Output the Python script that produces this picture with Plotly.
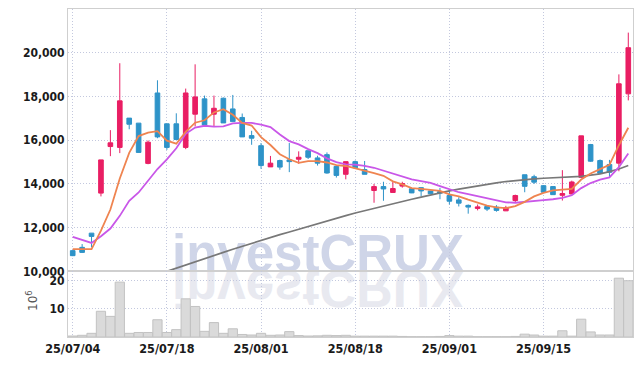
import plotly.graph_objects as go
from plotly.subplots import make_subplots

dates = ["25/07/04", "25/07/07", "25/07/08", "25/07/09", "25/07/10", "25/07/11",
         "25/07/14", "25/07/15", "25/07/16", "25/07/17", "25/07/18",
         "25/07/21", "25/07/22", "25/07/23", "25/07/24", "25/07/25",
         "25/07/28", "25/07/29", "25/07/30", "25/07/31", "25/08/01",
         "25/08/04", "25/08/05", "25/08/06", "25/08/07", "25/08/08",
         "25/08/11", "25/08/12", "25/08/13", "25/08/14", "25/08/18",
         "25/08/19", "25/08/20", "25/08/21", "25/08/22", "25/08/25",
         "25/08/26", "25/08/27", "25/08/28", "25/08/29", "25/09/01",
         "25/09/02", "25/09/03", "25/09/04", "25/09/05", "25/09/08",
         "25/09/09", "25/09/10", "25/09/11", "25/09/12", "25/09/15",
         "25/09/16", "25/09/17", "25/09/18", "25/09/19", "25/09/22",
         "25/09/23", "25/09/24", "25/09/25", "25/09/26"]

opens = [10950, 11100, 11750, 13580, 15710, 15670, 17010, 16780, 14940, 18160,
         16750, 16750, 15670, 17190, 17890, 17190, 17920, 17430, 17040, 16210,
         15750, 14780, 15070, 15100, 15130, 15520, 15190, 15340, 14800, 14440,
         15020, 14660, 13700, 13880, 13610, 13900, 13780, 13830, 13680, 13650,
         13470, 13270, 13020, 12880, 12970, 12940, 12770, 13240, 14420, 14330,
         13920, 13880, 13480, 13540, 14300, 15800, 15070, 14890, 14950, 18120]
highs = [10980, 11250, 11750, 15100, 16460, 19520, 17010, 16780, 15990, 18740,
         16750, 17230, 18360, 19470, 18040, 18040, 17950, 18070, 17220, 16430,
         15870, 15280, 15110, 15870, 15490, 15520, 15290, 15440, 14800, 15020,
         15070, 15050, 14000, 14100, 14140, 14100, 13800, 13830, 13680, 13820,
         13700, 13390, 13060, 13060, 12970, 13030, 13000, 13510, 14420, 14420,
         13950, 13890, 14630, 14150, 16200, 15830, 15120, 15100, 19010, 20920]
lows = [10700, 10840, 11100, 13430, 15270, 15410, 16500, 15440, 14900, 16090,
        15560, 16030, 15590, 16630, 16700, 16650, 16790, 16850, 16150, 15790,
        14690, 14780, 14650, 14540, 14920, 15140, 14840, 14470, 14290, 14210,
        14740, 14440, 13140, 13230, 13610, 13830, 13580, 13440, 13550, 13300,
        13060, 12970, 12640, 12790, 12760, 12730, 12760, 13170, 13620, 14000,
        13620, 13510, 13240, 13540, 14280, 15010, 14490, 14300, 14580, 17820]
closes = [10720, 10870, 11600, 15100, 15880, 17800, 16730, 15440, 15910, 16150,
          15670, 16030, 18160, 17980, 16700, 17460, 16790, 16850, 16150, 16090,
          14840, 14950, 14770, 15020, 15220, 15220, 14950, 14500, 14390, 15020,
          14740, 14440, 13880, 13770, 13790, 14020, 13590, 13680, 13550, 13580,
          13210, 13120, 12940, 12950, 12850, 12790, 12910, 13470, 13890, 14080,
          13620, 13510, 13560, 14090, 16200, 15040, 14490, 14530, 18580, 20230]

ma5 = [11020, 11020, 11020, 11860, 12830, 14250, 15420, 16190, 16350, 16410,
       15980, 15840, 16380, 16800, 16910, 17270, 17420, 17160, 16790, 16670,
       16140, 15780, 15360, 15130, 14960, 15040, 15040, 14980, 14860, 14820,
       14720, 14620, 14490, 14370, 14120, 13980, 13810, 13770, 13730, 13680,
       13520, 13430, 13280, 13160, 13010, 12930, 12890, 12990, 13180, 13430,
       13590, 13710, 13730, 13770, 14200, 14480, 14680, 14870, 15770, 16570]
ma10 = [11580, 11450, 11300, 11610, 11960, 12540, 13230, 13610, 14140, 14680,
        15120, 15630, 16290, 16580, 16660, 16620, 16630, 16770, 16790, 16790,
        16710, 16600, 16260, 15960, 15810, 15590, 15410, 15170, 15000, 14890,
        14880, 14830, 14740, 14610, 14470, 14350, 14210, 14130, 14050, 13900,
        13750, 13620, 13530, 13440, 13350, 13230, 13160, 13140, 13170, 13220,
        13260, 13300, 13360, 13480, 13810, 14040, 14200, 14300, 14770, 15390]
ma60 = [None, None, None, None, None, None, None, None, None, None,
        10000, 10150, 10300, 10440, 10590, 10730, 10870, 11010, 11150, 11290,
        11420, 11550, 11680, 11800, 11930, 12050, 12180, 12300, 12420, 12550,
        12670, 12780, 12890, 12990, 13100, 13200, 13300, 13400, 13500, 13590,
        13680, 13760, 13840, 13920, 13990, 14050, 14110, 14160, 14200, 14230,
        14260, 14280, 14300, 14320, 14350, 14400, 14460, 14560, 14680, 14840]

volume_m = [0.35, 0.6, 1.3, 9.1, 7.3, 19.4, 1.3, 1.6, 1.6, 6.1,
            1.6, 2.6, 13.5, 10.8, 2.0, 5.1, 1.3, 2.9, 0.9, 0.7,
            1.3, 0.6, 0.7, 1.9, 0.5, 0.35, 0.4, 0.6, 0.5, 0.6,
            0.3, 0.3, 0.3, 0.3, 0.3, 0.2, 0.1, 0.1, 0.1, 0.2,
            0.5, 0.3, 0.3, 0.1, 0.1, 0.1, 0.1, 0.2, 1.0, 0.7,
            0.3, 0.3, 2.2, 0.3, 6.3, 1.8, 0.7, 0.7, 20.8, 19.9]

price_ticks = [10000, 12000, 14000, 16000, 18000, 20000]
price_tick_text = ["10,000", "12,000", "14,000", "16,000", "18,000", "20,000"]
x_tick_dates = ["25/07/04", "25/07/18", "25/08/01", "25/08/18", "25/09/01", "25/09/15"]
vol_ticks = [10, 20]
vol_tick_text = ["10", "20"]

UP = "#e91e63"
DOWN = "#2e93c8"
GRID = "#c3c8de"
BORDER = "#cfcfcf"
FAMILY = "DejaVu Sans Condensed, Liberation Sans Narrow, sans-serif"
XFONT = dict(family=FAMILY, size=12.5, color="#1a1a1a", weight="bold")
YFONT = dict(family=FAMILY, size=12, color="#1a1a1a", weight="bold")

fig = make_subplots(rows=2, cols=1, shared_xaxes=True, vertical_spacing=0,
                    row_heights=[0.8, 0.2])

fig.add_trace(go.Candlestick(
    x=dates, open=opens, high=highs, low=lows, close=closes,
    increasing=dict(line=dict(color=UP, width=1), fillcolor=UP),
    decreasing=dict(line=dict(color=DOWN, width=1), fillcolor=DOWN),
    whiskerwidth=0, hoverinfo="skip", showlegend=False), row=1, col=1)

fig.add_trace(go.Scatter(x=dates, y=ma60, mode="lines",
                         line=dict(color="#787878", width=1.7),
                         hoverinfo="skip", showlegend=False), row=1, col=1)
fig.add_trace(go.Scatter(x=dates, y=ma10, mode="lines",
                         line=dict(color="#c957e8", width=1.8),
                         hoverinfo="skip", showlegend=False), row=1, col=1)
fig.add_trace(go.Scatter(x=dates, y=ma5, mode="lines",
                         line=dict(color="#ef8450", width=1.8),
                         hoverinfo="skip", showlegend=False), row=1, col=1)

fig.add_trace(go.Bar(x=dates, y=volume_m,
                     marker=dict(color="#dadada", line=dict(color="#c2c2c2", width=1)),
                     hoverinfo="skip", showlegend=False), row=2, col=1)

axis_common = dict(showline=True, mirror=True, linecolor=BORDER, linewidth=1,
                   showgrid=True, gridcolor=GRID, griddash="1px,2px", gridwidth=1,
                   zeroline=False, ticks="", automargin=False)

fig.update_xaxes(type="category", categoryorder="array", categoryarray=dates,
                 range=[-0.5, len(dates) - 0.5], tickvals=x_tick_dates,
                 ticktext=x_tick_dates, rangeslider=dict(visible=False),
                 tickfont=XFONT, **axis_common)
fig.update_xaxes(showticklabels=False, row=1, col=1)
fig.update_yaxes(range=[10000, 22000], tickvals=price_ticks, ticktext=price_tick_text,
                 tickfont=YFONT, row=1, col=1, **axis_common)
fig.update_yaxes(range=[0, 23.2], tickvals=vol_ticks, ticktext=vol_tick_text,
                 tickfont=YFONT, row=2, col=1, **axis_common)

wm_x = (318 - 68) / 565
fig.add_annotation(text="investCRUX", xref="paper", yref="paper", x=wm_x, y=0.2,
                   xanchor="center", yanchor="bottom", yshift=-11, showarrow=False,
                   borderpad=0, borderwidth=0,
                   font=dict(family="Liberation Sans, Arial, sans-serif", size=51,
                             weight="bold", color="#cfd5e8"))
fig.add_annotation(text="investCRUX", xref="paper", yref="paper", x=wm_x, y=0.2,
                   xanchor="center", yanchor="bottom", yshift=-11, showarrow=False,
                   borderpad=0, borderwidth=0,
                   font=dict(family="Liberation Sans, Arial, sans-serif", size=51,
                             weight="bold", color="#e8e9f0"))
fig.add_annotation(text="10<sup>6</sup>", xref="paper", yref="paper",
                   x=(32 - 68) / 565, y=0.11, xanchor="center", yanchor="middle",
                   textangle=-90, showarrow=False,
                   font=dict(family="DejaVu Sans, sans-serif", size=12, color="#555555"))

fig.update_layout(width=642, height=366, margin=dict(l=68, r=9, t=9, b=29),
                  paper_bgcolor="white", plot_bgcolor="white",
                  bargap=0.02, boxgap=0.3, hovermode=False, showlegend=False)

js = """
document.documentElement.style.margin = '0';
document.documentElement.style.padding = '0';
document.body.style.margin = '0';
document.body.style.padding = '0';
var gd = document.getElementById('{plot_id}');
var below = gd.querySelector('.main-svg .layer-below');
var anns = gd.querySelectorAll('g.annotation');
anns.forEach(function(a){
  var idx = a.getAttribute('data-index');
  if (idx === '0' || idx === '1') {
    if (idx === '1') {
      var t = a.querySelector('text.annotation-text');
      var bb = t.getBBox();
      var base = bb.y + bb.height * 0.81;
      t.setAttribute('transform', 'translate(0,' + (2 * base) + ') scale(1,-1)');
    }
    if (below) { below.appendChild(a); }
  }
});
"""

fig.write_html("out.html", config={"displayModeBar": False}, post_script=js)
